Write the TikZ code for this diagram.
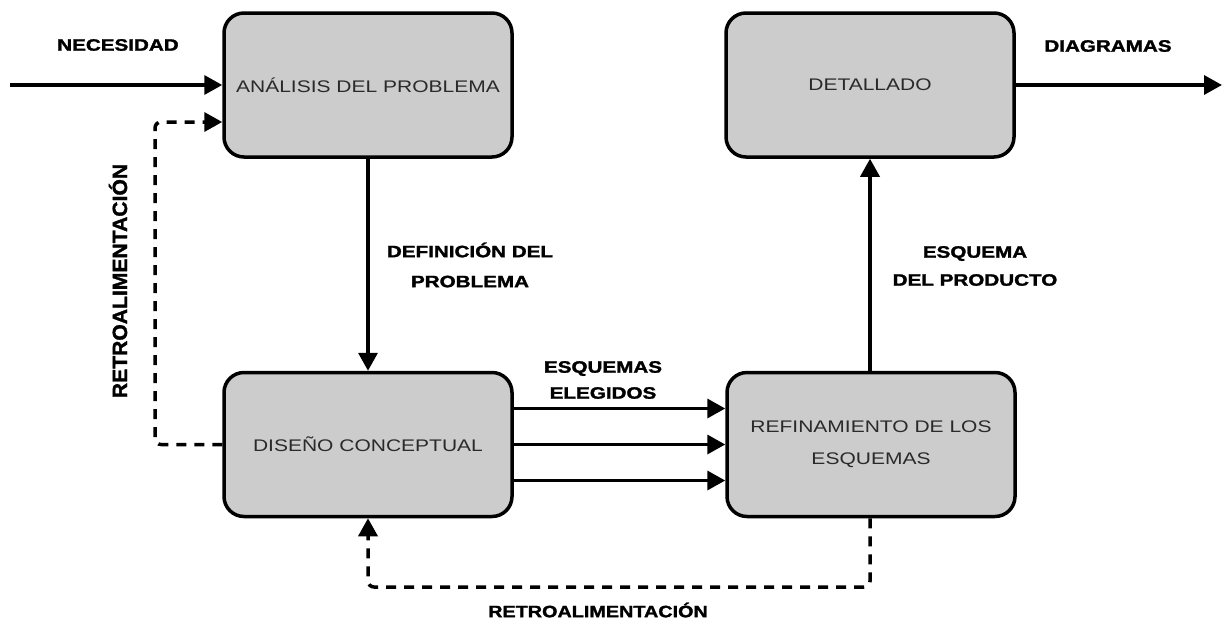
\documentclass[tikz,border=0pt]{standalone}
\usepackage{fontspec}
\setmainfont{Liberation Sans}
\newfontfamily\heavyfont[BoldFeatures={FakeBold=1.5}]{Liberation Sans}
\usetikzlibrary{arrows.meta,calc}
\definecolor{boxfill}{HTML}{CCCCCC}
\definecolor{boxtext}{HTML}{2A2A2A}
\newcommand{\sx}[1]{\scalebox{1.25}[1]{#1}}
\tikzset{
  stage/.style={draw=black, line width=3.5pt, fill=boxfill, rounded corners=20pt,
    minimum width=288pt, minimum height=144pt, inner sep=0pt,
    text=boxtext, font=\fontsize{16.8}{32}\selectfont, align=center},
  lbl/.style={font=\fontsize{16.5}{30}\selectfont\heavyfont\bfseries, align=center, inner sep=0pt},
  arr/.style={line width=3.5pt, -{Triangle[length=18pt,width=19pt]}},
  dsh/.style={line width=3.5pt, dash pattern=on 10pt off 8pt, -{Triangle[length=18pt,width=19pt]}}
}
\begin{document}
\begin{tikzpicture}[x=1pt,y=-1pt]
\useasboundingbox (0,0) rectangle (1222,621);
\node[stage] (ana) at (368,85) {\sx{ANÁLISIS DEL PROBLEMA}};
\node[stage] (det) at (870,85) {\sx{DETALLADO}};
\node[stage] (dis) at (368,444.5) {\sx{DISEÑO CONCEPTUAL}};
\node[stage] (ref) at (871,444.5) {\sx{REFINAMIENTO DE LOS}\\\sx{ESQUEMAS}};

\coordinate (start) at (10,85);
\coordinate (finish) at (1222,85);
\coordinate (fbA) at (155,122);
\coordinate (fbB) at (368,587);

\draw[arr] (start) -- (ana.west);
\draw[arr] (det.east) -- (finish);
\draw[arr] (ana.south) -- (dis.north);
\draw[arr] (ref.north -| det.south) -- (det.south);
\draw[arr] ($(dis.east)+(0,-36)$) -- ($(ref.west)+(0,-36)$);
\draw[arr] (dis.east) -- (ref.west);
\draw[arr] ($(dis.east)+(0,36)$) -- ($(ref.west)+(0,36)$);
\draw[dsh, rounded corners=6pt] (dis.west) -| (fbA) -- (ana.west |- fbA);
\draw[dsh, rounded corners=6pt] (ref.south -| det.south) |- (fbB) -- (dis.south);

\node[lbl] (lnec) at (118,45) {\sx{NECESIDAD}};
\node[lbl] (ldia) at (1108,46) {\sx{DIAGRAMAS}};
\node[lbl] (ldef) at (470,265) {\sx{DEFINICIÓN DEL}\\\sx{PROBLEMA}};
\node[lbl, font=\fontsize{16.5}{26}\selectfont\heavyfont\bfseries] (lesq) at (603,380) {\sx{ESQUEMAS}\\\sx{ELEGIDOS}};
\node[lbl, font=\fontsize{16.5}{28}\selectfont\heavyfont\bfseries] (lpro) at (975,266) {\sx{ESQUEMA}\\\sx{DEL PRODUCTO}};
\node[lbl] (lret) at (598,610) {\scalebox{1.2}[1]{RETROALIMENTACIÓN}};
\node[lbl, rotate=90] (lret2) at (118,281) {\scalebox{1.28}[1.25]{RETROALIMENTACIÓN}};
\end{tikzpicture}
\end{document}
